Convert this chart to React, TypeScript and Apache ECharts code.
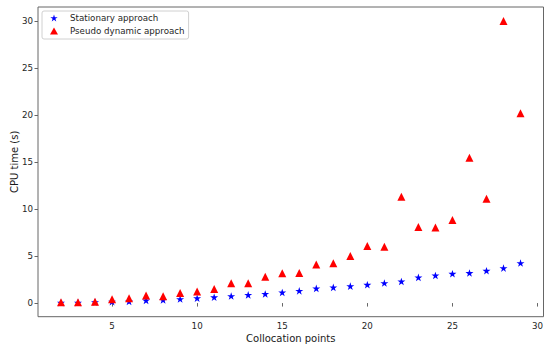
import React, { useEffect, useRef } from "react";
import * as echarts from "echarts";

const collocationPoints = [2, 3, 4, 5, 6, 7, 8, 9, 10, 11, 12, 13, 14, 15, 16, 17, 18, 19, 20, 21, 22, 23, 24, 25, 26, 27, 28, 29];
const stationary = [0.04, 0.05, 0.1, 0.15, 0.18, 0.28, 0.33, 0.43, 0.52, 0.62, 0.75, 0.87, 0.97, 1.13, 1.3, 1.56, 1.67, 1.8, 1.95, 2.13, 2.3, 2.73, 2.94, 3.12, 3.2, 3.44, 3.72, 4.26];
const pseudoDynamic = [0.08, 0.08, 0.15, 0.4, 0.5, 0.8, 0.72, 1.08, 1.22, 1.5, 2.1, 2.1, 2.8, 3.16, 3.2, 4.1, 4.25, 5.0, 6.06, 6.0, 11.3, 8.1, 8.05, 8.83, 15.46, 11.1, 30.0, 20.2];
const xTicks = [5, 10, 15, 20, 25, 30];
const yTicks = [0, 5, 10, 15, 20, 25, 30];

const STAR =
  "path://M100 0 L122.45 69.1 L195.1 69.1 L136.3 111.8 L158.8 180.9 L100 138.2 L41.2 180.9 L63.7 111.8 L4.9 69.1 L77.55 69.1 Z";

const FONT = "DejaVu Sans";

export default function App() {
  const ref = useRef<HTMLDivElement>(null);
  useEffect(() => {
    if (!ref.current) return;
    const chart = echarts.init(ref.current, undefined, { renderer: "svg" });
    const axisCommon = {
      axisLine: { show: false },
      splitLine: { show: false },
      nameMoveOverlap: false,
    };
    chart.setOption({
      animation: false,
      backgroundColor: "#ffffff",
      grid: {
        left: 38,
        right: 6.5,
        top: 7,
        bottom: 31.3,
        show: true,
        containLabel: false,
        outerBoundsMode: "none",
        borderColor: "#666",
        borderWidth: 1,
      },
      legend: {
        orient: "vertical",
        left: 42,
        top: 11,
        padding: [2, 4, 3, 8],
        itemWidth: 8,
        itemHeight: 7,
        itemGap: 3,
        borderColor: "#d0d0d0",
        borderWidth: 1,
        borderRadius: 2,
        backgroundColor: "rgba(255,255,255,0.8)",
        textStyle: { fontFamily: FONT, fontSize: 8.7, color: "#262626", lineHeight: 10, padding: [0, 0, 0, 7] },
        data: ["Stationary approach", "Pseudo dynamic approach"],
      },
      xAxis: {
        type: "value",
        min: 0.65,
        max: 30.35,
        ...axisCommon,
        name: "Collocation points",
        nameLocation: "middle",
        nameGap: 17,
        nameTextStyle: { fontFamily: FONT, fontSize: 10, color: "#1a1a1a" },
        axisTick: { show: true, length: 3.5, lineStyle: { color: "#666" }, customValues: xTicks },
        axisLabel: { fontFamily: FONT, fontSize: 8.7, color: "#262626", margin: 5, customValues: xTicks },
      },
      yAxis: {
        type: "value",
        min: -1.45,
        max: 31.5,
        ...axisCommon,
        name: "CPU time (s)",
        nameLocation: "middle",
        nameGap: 19,
        nameTextStyle: { fontFamily: FONT, fontSize: 10, color: "#1a1a1a" },
        axisTick: { show: true, length: 3.5, lineStyle: { color: "#666" }, customValues: yTicks },
        axisLabel: { fontFamily: FONT, fontSize: 8.7, color: "#262626", margin: 5, customValues: yTicks },
      },
      series: [
        {
          name: "Stationary approach",
          type: "scatter",
          symbol: STAR,
          symbolSize: [8, 7.6],
          itemStyle: { color: "#0000ff", opacity: 1 },
          data: collocationPoints.map((x, i) => [x, stationary[i]]),
        },
        {
          name: "Pseudo dynamic approach",
          type: "scatter",
          symbol: "triangle",
          symbolSize: 8,
          itemStyle: { color: "#ff0000", opacity: 1 },
          data: collocationPoints.map((x, i) => [x, pseudoDynamic[i]]),
        },
      ],
    });
    return () => chart.dispose();
  }, []);
  return <div ref={ref} style={{ width: 550, height: 348, position: "absolute", left: 0, top: 0 }} />;
}
